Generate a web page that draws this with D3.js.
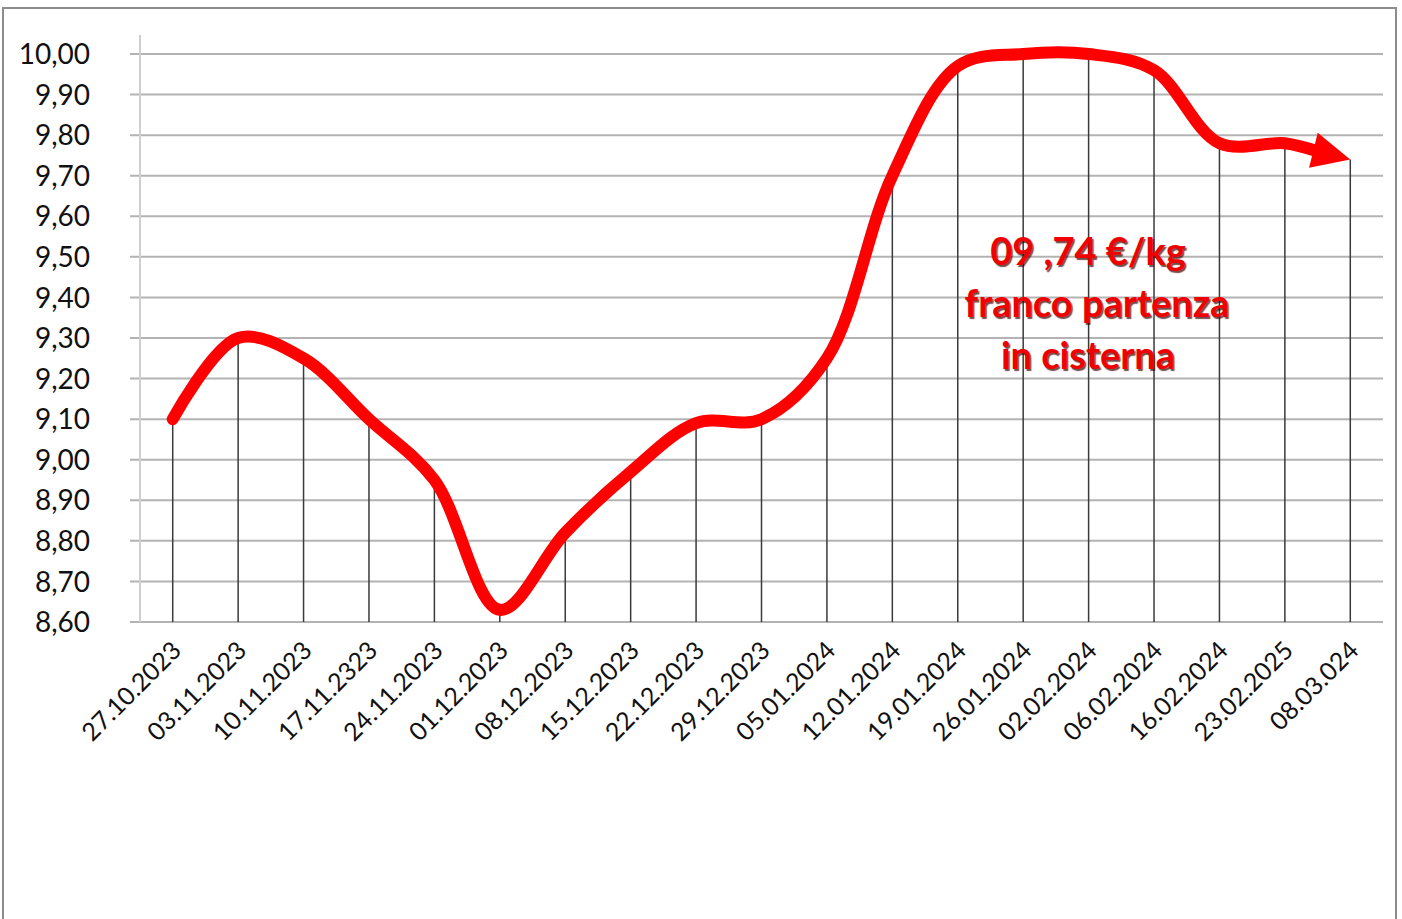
<!DOCTYPE html>
<html>
<head>
<meta charset="utf-8">
<script src="https://cdn.jsdelivr.net/npm/d3@7"></script>
<style>
  body { margin: 0; background: #fff; }
  svg { display: block; font-family: "Lato", "Open Sans", sans-serif; }
  .grid line { stroke: #b3b3b3; stroke-width: 2; }
  .drop { stroke: #3a3a3a; stroke-width: 1.5; }
  .note { fill: #f00000; font-weight: 700; font-size: 38px; text-anchor: middle;
          text-shadow: 1.5px 1.5px 1px rgba(60,0,0,0.7); }
</style>
</head>
<body>
<svg width="1402" height="919"></svg>
<script>
var dates = ["27.10.2023", "03.11.2023", "10.11.2023", "17.11.2323", "24.11.2023", "01.12.2023",
  "08.12.2023", "15.12.2023", "22.12.2023", "29.12.2023", "05.01.2024", "12.01.2024",
  "19.01.2024", "26.01.2024", "02.02.2024", "06.02.2024", "16.02.2024", "23.02.2025", "08.03.024"];
var prices = [9.10, 9.30, 9.25, 9.10, 8.95, 8.63, 8.82, 8.97, 9.09, 9.10, 9.25, 9.70,
  9.97, 10.00, 10.00, 9.96, 9.78, 9.78, 9.74];
var yTicks = [8.6, 8.7, 8.8, 8.9, 9.0, 9.1, 9.2, 9.3, 9.4, 9.5, 9.6, 9.7, 9.8, 9.9, 10.0];
var noteLines = ["09 ,74 €/kg", "franco partenza", "in cisterna"];

var svg = d3.select("svg");

// outer frame
svg.append("rect")
  .attr("x", 3).attr("y", 8)
  .attr("width", 1393).attr("height", 940)
  .attr("fill", "none")
  .attr("stroke", "#8c8c8c")
  .attr("stroke-width", 2);

var pLeft = 140, pRight = 1383, pTop = 54, pBottom = 622;

var x = d3.scaleBand().domain(dates).range([pLeft, pRight]);
var y = d3.scaleLinear().domain([8.6, 10.0]).range([pBottom, pTop]);
var cx = function(d) { return x(d) + x.bandwidth() / 2; };

var fmt = function(v) { return v.toFixed(2).replace(".", ","); };

// horizontal gridlines
var grid = svg.append("g").attr("class", "grid");
grid.selectAll("line")
  .data(yTicks)
  .enter().append("line")
  .attr("x1", pLeft - 10).attr("x2", pRight)
  .attr("y1", function(d) { return y(d); })
  .attr("y2", function(d) { return y(d); });

// y axis line
svg.append("line")
  .attr("x1", pLeft).attr("x2", pLeft)
  .attr("y1", 35).attr("y2", pBottom)
  .attr("stroke", "#cfcfcf").attr("stroke-width", 2);

// y labels
svg.append("g").selectAll("text")
  .data(yTicks)
  .enter().append("text")
  .attr("x", pLeft - 50)
  .attr("y", function(d) { return y(d); })
  .attr("dy", "0.36em")
  .attr("text-anchor", "end")
  .attr("font-size", 28)
  .attr("fill", "#111")
  .text(fmt);

// drop lines
var pts = dates.map(function(d, i) { return {date: d, value: prices[i]}; });
svg.append("g").selectAll("line")
  .data(pts)
  .enter().append("line")
  .attr("class", "drop")
  .attr("x1", function(d) { return cx(d.date); })
  .attr("x2", function(d) { return cx(d.date); })
  .attr("y1", function(d) { return y(d.value); })
  .attr("y2", pBottom);

// x labels
svg.append("g").selectAll("text")
  .data(dates)
  .enter().append("text")
  .attr("transform", function(d) { return "translate(" + (cx(d) + 10) + "," + 652 + ") rotate(-45)"; })
  .attr("text-anchor", "end")
  .attr("font-size", 25)
  .attr("fill", "#111")
  .text(function(d) { return d; });

// red curve with arrow
var xy = pts.map(function(d) { return [cx(d.date), y(d.value)]; });
var tip = xy[xy.length - 1], prev = xy[xy.length - 2];
var ang = Math.atan2(tip[1] - prev[1], tip[0] - prev[0]);
var headLen = 38, headW = 36;
var shaft = xy.slice(0, -1).concat([[tip[0] - (headLen - 4) * Math.cos(ang), tip[1] - (headLen - 4) * Math.sin(ang)]]);

var line = d3.line().curve(d3.curveCatmullRom.alpha(0.5));

svg.append("path")
  .attr("d", line(shaft))
  .attr("fill", "none")
  .attr("stroke", "#ff0000")
  .attr("stroke-width", 12)
  .attr("stroke-linecap", "round")
  .attr("stroke-linejoin", "round");

var bx = tip[0] - headLen * Math.cos(ang), by = tip[1] - headLen * Math.sin(ang);
var nx = -Math.sin(ang), ny = Math.cos(ang);
svg.append("path")
  .attr("d", "M" + tip[0] + "," + tip[1] +
    "L" + (bx + nx * headW / 2) + "," + (by + ny * headW / 2) +
    "L" + (bx - nx * headW / 2) + "," + (by - ny * headW / 2) + "Z")
  .attr("fill", "#ff0000");

// annotation
svg.append("g").selectAll("text")
  .data(noteLines)
  .enter().append("text")
  .attr("class", "note")
  .attr("x", function(d, i) { return i == 1 ? 1097 : 1088; })
  .attr("y", function(d, i) { return 265 + i * 52; })
  .text(function(d) { return d; });
</script>
</body>
</html>
